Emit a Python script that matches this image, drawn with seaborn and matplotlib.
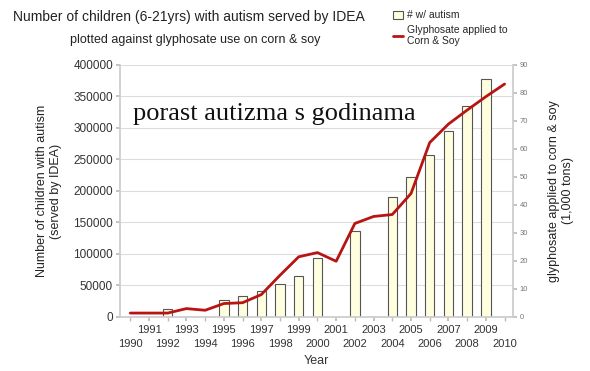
import matplotlib
matplotlib.use("Agg")
import matplotlib.pyplot as plt
import seaborn as sns
import pandas as pd
from matplotlib.patches import Patch
from matplotlib.lines import Line2D

# ---- data ----
bar_years = [1992, 1995, 1996, 1997, 1998, 1999, 2000, 2002, 2004, 2005, 2006, 2007, 2008, 2009]
autism_counts = [12000, 27500, 34000, 42000, 53000, 64500, 93000, 136000, 190000, 221500, 257000, 295000, 335500, 377500]

line_years = list(range(1990, 2011))
glyphosate = [1.4, 1.4, 1.4, 3.0, 2.4, 4.8, 5.1, 8.0, 14.9, 21.5, 23.0, 19.9, 33.4, 35.9, 36.6, 44.1, 62.3, 68.9, 73.9, 78.7, 83.2]

left_ticks = [0, 50000, 100000, 150000, 200000, 250000, 300000, 350000, 400000]
right_ticks = [0, 10, 20, 30, 40, 50, 60, 70, 80, 90]
odd_years = [y for y in line_years if y % 2 == 1]
even_years = [y for y in line_years if y % 2 == 0]

bars_df = pd.DataFrame({"year": bar_years, "count": autism_counts})
line_df = pd.DataFrame({"year": line_years, "glyphosate": glyphosate})

sns.set_theme(style="white")
plt.rcParams["font.family"] = ["Liberation Sans", "DejaVu Sans"]

fig = plt.figure(figsize=(5.9, 3.71), dpi=100)
ax = fig.add_axes([0.2034, 0.1456, 0.6661, 0.6792])

sns.barplot(data=bars_df, x="year", y="count", native_scale=True, width=0.5,
            color="#FFFFE0", edgecolor="#555555", linewidth=0.8, saturation=1,
            ax=ax, zorder=2)
ax.set_xlim(1989.45, 2010.45)
ax.set_ylim(0, 400000)
ax.set_yticks(left_ticks)
ax.set_yticklabels([str(t) for t in left_ticks], fontsize=8.5, color="#333333")
ax.yaxis.grid(True, color="#dddddd", linewidth=0.8, zorder=0)
ax.set_axisbelow(True)

ax.set_xticks(odd_years)
ax.set_xticklabels([str(y) for y in odd_years], fontsize=8, color="#333333")
ax.set_xticks(even_years, minor=True)
ax.set_xticklabels([str(y) for y in even_years], minor=True, fontsize=8, color="#333333")
ax.tick_params(axis="x", which="major", length=3, color="#bbbbbb", pad=3, bottom=True)
ax.tick_params(axis="x", which="minor", length=3, color="#bbbbbb", pad=12.5, bottom=True)
ax.tick_params(axis="y", length=3, color="#bbbbbb", pad=2, left=True)
ax.set_xlabel("Year", fontsize=9, color="#333333", labelpad=5)
ax.set_ylabel("Number of children with autism\n(served by IDEA)", fontsize=9, color="#222222", labelpad=8)
for side in ["top", "right"]:
    ax.spines[side].set_visible(False)
ax.spines["left"].set_color("#cccccc")
ax.spines["bottom"].set_color("#cccccc")

ax2 = ax.twinx()
sns.lineplot(data=line_df, x="year", y="glyphosate", color="#B81414", linewidth=2.0, ax=ax2)
ax2.set_ylim(0, 90)
ax2.set_yticks(right_ticks)
ax2.set_yticklabels([str(t) for t in right_ticks], fontsize=5.5, color="#777777")
ax2.tick_params(axis="y", length=3, color="#bbbbbb", pad=2, right=True)
ax2.set_ylabel("glyphosate applied to corn & soy\n(1,000 tons)", fontsize=9, color="#222222", labelpad=14)
for side in ["top", "left", "bottom"]:
    ax2.spines[side].set_visible(False)
ax2.spines["right"].set_color("#cccccc")
ax2.grid(False)

fig.text(0.32, 0.955, "Number of children (6-21yrs) with autism served by IDEA",
         ha="center", va="center", fontsize=10, color="#222222")
fig.text(0.33, 0.893, "plotted against glyphosate use on corn & soy",
         ha="center", va="center", fontsize=9, color="#222222")

fig.text(0.225, 0.693, "porast autizma s godinama", ha="left", va="center",
         fontsize=19, family=["Liberation Serif", "DejaVu Serif"], color="#111111")

handles = [Patch(facecolor="#FFFFE0", edgecolor="#555555", linewidth=0.8),
           Line2D([0], [0], color="#B81414", linewidth=2)]
fig.legend(handles, ["# w/ autism", "Glyphosate applied to\nCorn & Soy"],
           loc="upper left", bbox_to_anchor=(0.652, 0.995), frameon=False,
           fontsize=7.5, handlelength=1.0, handleheight=0.8, handletextpad=0.3,
           labelspacing=0.45, borderpad=0.3)

fig.savefig("out.png", dpi=100)
